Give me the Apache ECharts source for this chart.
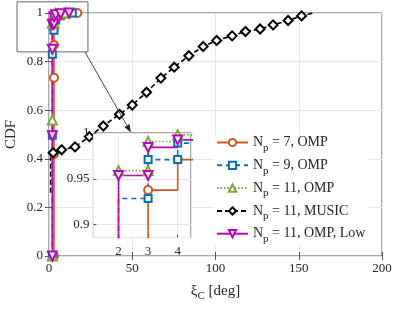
<!DOCTYPE html>
<html><head><meta charset="utf-8">
<script src="https://cdn.jsdelivr.net/npm/echarts@6/dist/echarts.min.js"></script>
<style>html,body{margin:0;padding:0;background:#fff}#c{width:396px;height:313px}</style>
</head><body><div id="c"></div>
<script>
// ---- data ----
const legendLabels = ['7, OMP', '9, OMP', '11, OMP', '11, MUSIC', '11, OMP, Low'];
// stair corner points of each empirical CDF; marks: 1 = marker drawn
const omp7X  = [3, 3, 3, 3, 3, 4, 4, 6, 6, 8, 8, 12, 12, 17, 17];
const omp7Y  = [0, 0.42, 0.734, 0.868, 0.9377, 0.9377, 0.971, 0.971, 0.982, 0.982, 0.99, 0.99, 0.995, 0.995, 1.0];
const omp7M  = [1, 1, 1, 1, 1, 0, 1, 0, 0, 0, 1, 0, 0, 0, 1];

const omp9X  = [2, 2, 2, 2, 3, 3, 4, 4, 7, 7, 14, 14];
const omp9Y  = [0, 0.497, 0.83, 0.9285, 0.9285, 0.971, 0.971, 0.989, 0.989, 0.995, 0.995, 1.0];
const omp9M  = [1, 1, 1, 0, 1, 1, 1, 1, 0, 1, 0, 1];

const omp11X = [2, 2, 2, 3, 3, 4, 4, 10, 10];
const omp11Y = [0, 0.56, 0.959, 0.959, 0.9907, 0.9907, 0.998, 0.998, 1.0];
const omp11M = [1, 1, 1, 1, 1, 0, 1, 0, 1];

const musicX = [1, 1, 2.5, 7.6, 15.6, 24.2, 32.6, 42.3, 50, 58.6, 67.2, 75.2, 84, 92.6, 100.7, 110, 118, 126.8, 134.6, 143.6, 151.7, 158.6];
const musicY = [0.26, 0.41, 0.425, 0.437, 0.449, 0.491, 0.535, 0.583, 0.621, 0.674, 0.732, 0.777, 0.824, 0.862, 0.887, 0.906, 0.924, 0.934, 0.951, 0.969, 0.988, 1.0];
const musicM = [0, 0, 1, 1, 1, 1, 1, 1, 1, 1, 1, 1, 1, 1, 1, 1, 1, 1, 1, 1, 1, 0];

const lowX   = [2, 2, 2, 2, 3, 3, 4, 4, 7, 7, 12, 12];
const lowY   = [0, 0.495, 0.851, 0.9537, 0.9537, 0.9843, 0.9843, 0.9925, 0.9925, 0.997, 0.997, 1.0];
const lowM   = [1, 1, 1, 1, 1, 1, 0, 1, 0, 1, 0, 1];

const mainXRange = [0, 200];
const mainYRange = [0, 1];
const insetXRange = [1.15, 4.45];
const insetYRange = [0.886, 1.0];
// annotation box (data coords) and arrow
const zoomBox = [[-19.2, 1.046], [23.4, 0.84]];
const arrowFrom = [21.6, 0.84], arrowTo = [49.2, 0.508];

// ---- styling ----
const FONT = 'Liberation Serif';
const TXT = '#262626';
const AX = '#555';
const GRIDC = '#e6e6e6';

const defs = [
  {x: omp7X, y: omp7Y, m: omp7M, color: '#D95319', symbol: 'emptyCircle', size: 8, type: 'solid', rot: 0},
  {x: omp9X, y: omp9Y, m: omp9M, color: '#0072BD', symbol: 'emptyRect', size: 7, type: [5, 4], rot: 0},
  {x: omp11X, y: omp11Y, m: omp11M, color: '#77AC30', symbol: 'emptyTriangle', size: 9, type: [1.5, 2], rot: 0},
  {x: musicX, y: musicY, m: musicM, color: '#000000', symbol: 'emptyDiamond', size: 9, type: [5, 3], rot: 0},
  {x: lowX, y: lowY, m: lowM, color: '#C000C0', symbol: 'emptyTriangle', size: 9, type: 'solid', rot: 180}
];
const names = legendLabels.map(l => 'Np = ' + l);

function buildData(d) {
  return d.x.map((x, i) => d.m[i] ? {value: [x, d.y[i]]} : {value: [x, d.y[i]], symbol: 'none'});
}

const series = [];
defs.forEach((d, k) => {
  const base = {
    type: 'line', name: names[k], data: buildData(d), showSymbol: true, showAllSymbol: true,
    symbol: d.symbol, symbolSize: d.size, symbolRotate: d.rot, animation: false, clip: true,
    lineStyle: {color: d.color, width: 1.6, type: d.type},
    itemStyle: {color: d.color, borderWidth: 1.5}
  };
  series.push(Object.assign({}, base, {xAxisIndex: 0, yAxisIndex: 0, z: 2}));
  series.push(Object.assign({}, base, {xAxisIndex: 2, yAxisIndex: 2, z: 7}));
});

const labelStyle = {color: TXT, fontFamily: FONT, fontSize: 13};

const option = {
  animation: false,
  backgroundColor: '#fff',
  grid: [
    {left: 49, right: 14, top: 13, bottom: 57, show: true, borderColor: AX, borderWidth: 1,
     backgroundColor: 'transparent', containLabel: false, outerBoundsMode: 'none'},
    {left: 93.4, top: 133, width: 97.6, height: 104.5, show: true, borderColor: AX, borderWidth: 1,
     backgroundColor: '#fff', z: 5, containLabel: false, outerBoundsMode: 'none'}
  ],
  xAxis: [
    {type: 'value', gridIndex: 0, min: mainXRange[0], max: mainXRange[1], interval: 50,
     axisLine: {show: false}, axisTick: {inside: true, length: 4, lineStyle: {color: AX}},
     axisLabel: Object.assign({margin: 6}, labelStyle),
     splitLine: {show: true, lineStyle: {color: GRIDC, width: 1}},
     name: '{a|ξ}{b|C}{a| [deg]}', nameLocation: 'middle', nameGap: 24, nameMoveOverlap: false,
     nameTextStyle: {rich: {a: {fontFamily: FONT, fontSize: 15, color: TXT, lineHeight: 22},
                            b: {fontFamily: FONT, fontSize: 11, color: TXT, lineHeight: 11, verticalAlign: 'bottom'}}}},
    {type: 'value', gridIndex: 0, position: 'top', min: mainXRange[0], max: mainXRange[1], interval: 50,
     axisLine: {show: false}, axisTick: {inside: true, length: 4, lineStyle: {color: AX}},
     axisLabel: {show: false}, splitLine: {show: false}},
    {type: 'value', gridIndex: 1, min: insetXRange[0], max: insetXRange[1], splitNumber: 3, z: 6,
     axisLine: {show: false}, axisTick: {inside: true, length: 3, lineStyle: {color: AX}},
     axisLabel: Object.assign({margin: 8, showMinLabel: false, showMaxLabel: false}, labelStyle),
     splitLine: {show: true, lineStyle: {color: GRIDC, width: 1}}}
  ],
  yAxis: [
    {type: 'value', gridIndex: 0, min: mainYRange[0], max: mainYRange[1], interval: 0.2,
     axisLine: {show: false}, axisTick: {inside: true, length: 4, lineStyle: {color: AX}},
     axisLabel: Object.assign({margin: 6}, labelStyle),
     splitLine: {show: true, lineStyle: {color: GRIDC, width: 1}},
     name: 'CDF', nameLocation: 'middle', nameGap: 30, nameMoveOverlap: false,
     nameTextStyle: {fontFamily: FONT, fontSize: 15, color: TXT}},
    {type: 'value', gridIndex: 0, position: 'right', min: mainYRange[0], max: mainYRange[1], interval: 0.2,
     axisLine: {show: false}, axisTick: {inside: true, length: 4, lineStyle: {color: AX}},
     axisLabel: {show: false}, splitLine: {show: false}},
    {type: 'value', gridIndex: 1, min: insetYRange[0], max: insetYRange[1], splitNumber: 2, z: 6,
     axisLine: {show: false}, axisTick: {inside: true, length: 3, lineStyle: {color: AX}},
     axisLabel: Object.assign({margin: 4, showMinLabel: false}, labelStyle),
     splitLine: {show: true, lineStyle: {color: GRIDC, width: 1}}}
  ],
  legend: {
    orient: 'vertical', left: 214, top: 135.5, itemWidth: 31, itemHeight: 9, itemGap: 4.8,
    backgroundColor: '#fff', padding: [0, 4, 0, 2], data: names,
    formatter: function (name) {
      const i = names.indexOf(name);
      return '{n|N}{s|p}{n| = ' + legendLabels[i] + '}';
    },
    textStyle: {rich: {n: {fontFamily: FONT, fontSize: 14, color: TXT, lineHeight: 22},
                       s: {fontFamily: FONT, fontSize: 11, color: TXT, lineHeight: 10, verticalAlign: 'bottom'}}}
  },
  series: series
};

const chart = echarts.init(document.getElementById('c'), null, {renderer: 'canvas'});
chart.setOption(option);

const p0 = chart.convertToPixel({gridIndex: 0}, zoomBox[0]);
const p1 = chart.convertToPixel({gridIndex: 0}, zoomBox[1]);
const a0 = chart.convertToPixel({gridIndex: 0}, arrowFrom);
const a1 = chart.convertToPixel({gridIndex: 0}, arrowTo);
const ang = Math.atan2(a1[1] - a0[1], a1[0] - a0[0]);
const hl = 8, hw = 3;
const bx = a1[0] - hl * Math.cos(ang), by = a1[1] - hl * Math.sin(ang);
const head = [
  [a1[0], a1[1]],
  [bx + hw * Math.sin(ang), by - hw * Math.cos(ang)],
  [bx - hw * Math.sin(ang), by + hw * Math.cos(ang)]
];
chart.setOption({graphic: [
  {type: 'rect', z: 4, shape: {x: p0[0], y: p0[1], width: p1[0] - p0[0], height: p1[1] - p0[1]},
   style: {fill: 'none', stroke: '#666', lineWidth: 1}},
  {type: 'line', z: 4, shape: {x1: a0[0], y1: a0[1], x2: bx, y2: by}, style: {stroke: '#333', lineWidth: 0.9}},
  {type: 'polygon', z: 4, shape: {points: head}, style: {fill: '#222'}}
]});
</script>
</body></html>
